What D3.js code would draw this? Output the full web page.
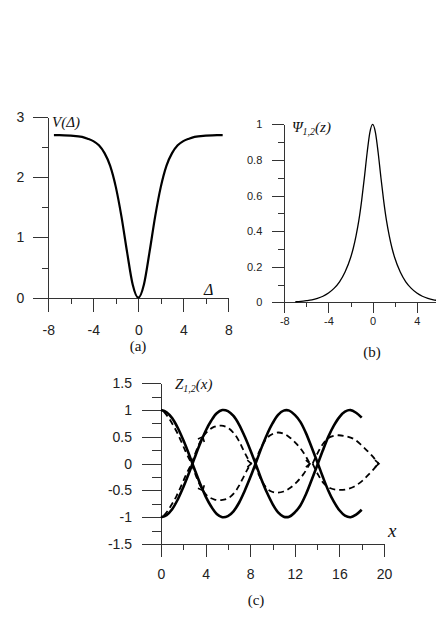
<!DOCTYPE html>
<meta charset="utf-8">
<style>
    body {
        margin: 0;
        background-color: #ffffff;
    }

    .axis path,
    .axis line {
        fill: none;
        stroke: #333333;
        stroke-width: 1px;
        shape-rendering: crispEdges;
    }

    .axis text {
        fill: #222222;
        font-family: "Liberation Sans", Arial, sans-serif;
    }

    .lbl {
        font-family: "Liberation Serif", "Times New Roman", serif;
        fill: #111111;
    }

    .curve {
        fill: none;
        stroke: #000000;
    }
</style>

<body>
    <script src="https://d3js.org/d3.v7.min.js"></script>
    <script>
        // (a) potential V(Δ)
        var deltaA = [-7.5, -7, -6, -5, -4.5, -4, -3.5, -3, -2.5, -2, -1.5, -1, -0.5, 0,
            0.5, 1, 1.5, 2, 2.5, 3, 3.5, 4, 4.5, 5, 6, 7, 7.5];
        var valueA = [2.70, 2.70, 2.69, 2.67, 2.64, 2.60, 2.53, 2.40, 2.19, 1.84, 1.35, 0.76, 0.22, 0,
            0.22, 0.76, 1.35, 1.84, 2.19, 2.40, 2.53, 2.60, 2.64, 2.67, 2.69, 2.70, 2.70];

        // (b) Ψ1,2(z)
        var zB = [-7, -6.5, -6, -5.5, -5, -4.5, -4, -3.5, -3, -2.5, -2, -1.75, -1.5, -1.25, -1, -0.75, -0.5, -0.25, 0,
            0.25, 0.5, 0.75, 1, 1.25, 1.5, 1.75, 2, 2.5, 3, 3.5, 4, 4.5, 5, 5.5, 6, 6.5, 7, 7.5, 8];
        var valueB = [0.003, 0.005, 0.009, 0.014, 0.022, 0.034, 0.052, 0.078, 0.115, 0.17, 0.25, 0.305, 0.375, 0.46, 0.57, 0.70, 0.84, 0.955, 1,
            0.955, 0.84, 0.70, 0.57, 0.46, 0.375, 0.305, 0.25, 0.17, 0.115, 0.078, 0.052, 0.034, 0.022, 0.014, 0.009, 0.005, 0.003, 0.002, 0.001];

        // (c) Z1,2(x): two solid curves, dashed lobes
        var xC = [0, 0.5, 1, 1.5, 2, 2.5, 3, 3.5, 4, 4.5, 5, 5.5, 6, 6.5, 7, 7.5, 8, 8.5, 9,
            9.5, 10, 10.5, 11, 11.5, 12, 12.5, 13, 13.5, 14, 14.5, 15, 15.5, 16, 16.5, 17, 17.5, 18];
        var solid1 = [1, 0.96, 0.85, 0.67, 0.44, 0.18, -0.10, -0.37, -0.61, -0.80, -0.94, -1.0, -0.98, -0.89, -0.73, -0.51, -0.26, 0.01, 0.29,
            0.54, 0.75, 0.91, 0.99, 0.99, 0.91, 0.78, 0.57, 0.31, 0.04, -0.24, -0.50, -0.71, -0.87, -0.97, -1.0, -0.95, -0.86];
        var solid2 = [-1, -0.96, -0.85, -0.67, -0.44, -0.18, 0.10, 0.37, 0.61, 0.80, 0.94, 1.0, 0.98, 0.89, 0.73, 0.51, 0.26, -0.01, -0.29,
            -0.54, -0.75, -0.91, -0.99, -0.99, -0.91, -0.78, -0.57, -0.31, -0.04, 0.24, 0.50, 0.71, 0.87, 0.97, 1.0, 0.95, 0.86];

        var dashUpper = [
            [[0.25, 0.97], [0.6, 0.88], [1.0, 0.75], [1.4, 0.6], [1.8, 0.42], [2.2, 0.23], [2.5, 0.1], [2.75, 0]],
            [[2.75, 0], [3.2, 0.26], [3.7, 0.48], [4.2, 0.61], [4.8, 0.69], [5.4, 0.71], [6.0, 0.67], [6.6, 0.55], [7.0, 0.42], [7.4, 0.25], [7.8, 0.09], [8.1, 0]],
            [[8.4, 0], [8.8, 0.22], [9.3, 0.42], [9.8, 0.53], [10.4, 0.58], [11.0, 0.56], [11.6, 0.48], [12.2, 0.36], [12.8, 0.2], [13.35, 0]],
            [[13.6, 0], [14.1, 0.22], [14.6, 0.39], [15.2, 0.5], [15.9, 0.53], [16.6, 0.51], [17.3, 0.46], [18.0, 0.34], [18.5, 0.24], [19.0, 0.13], [19.5, 0]]
        ];
        var dashLower = [
            [[0.25, -0.97], [0.6, -0.88], [1.0, -0.75], [1.4, -0.6], [1.8, -0.42], [2.2, -0.23], [2.5, -0.1], [2.75, 0]],
            [[2.75, 0], [3.2, -0.26], [3.7, -0.48], [4.2, -0.61], [4.8, -0.67], [5.4, -0.68], [6.0, -0.65], [6.6, -0.54], [7.0, -0.41], [7.4, -0.25], [7.8, -0.09], [8.1, 0]],
            [[8.4, 0], [8.8, -0.22], [9.3, -0.41], [9.8, -0.51], [10.4, -0.54], [11.0, -0.52], [11.6, -0.45], [12.2, -0.34], [12.8, -0.19], [13.35, 0]],
            [[13.6, 0], [14.1, -0.21], [14.6, -0.37], [15.2, -0.46], [15.9, -0.49], [16.6, -0.48], [17.3, -0.43], [18.0, -0.33], [18.5, -0.23], [19.0, -0.12], [19.5, 0]]
        ];
        // little arrow heads on the dashed lobes: [x, y, towards x, towards y]
        var arrowsC = [[3.75, 0.5, 3.2, 0.26], [3.75, -0.5, 3.2, -0.26], [8.1, 0, 7.6, 0], [13.35, 0, 12.8, 0], [19.55, 0, 19.0, 0]];

        var svg = d3.select("body").append("svg")
            .attr("width", 436)
            .attr("height", 617);

        function drawAxes(x, y, o) {
            var y0 = y.range()[0],
                x0 = x.range()[0];
            var fmt = function(d) {
                return String(d);
            };

            var gx = svg.append("g").attr("class", "axis")
                .attr("transform", "translate(0," + y0 + ")");
            gx.call(d3.axisBottom(x).tickValues(o.xMajor).tickSize(o.xTick).tickSizeOuter(0)
                .tickPadding(o.xPad).tickFormat(fmt));
            gx.selectAll("text").style("font-size", o.font + "px");
            var gxm = svg.append("g").attr("class", "axis")
                .attr("transform", "translate(0," + y0 + ")");
            gxm.call(d3.axisBottom(x).tickValues(o.xMinor).tickSize(o.xTickMinor).tickFormat(""));
            gxm.select(".domain").remove();

            var gy = svg.append("g").attr("class", "axis")
                .attr("transform", "translate(" + x0 + ",0)");
            gy.call(d3.axisLeft(y).tickValues(o.yMajor).tickSize(o.yTick).tickSizeOuter(0)
                .tickPadding(o.yPad).tickFormat(fmt));
            gy.selectAll("text").style("font-size", o.yFont + "px");
            var gym = svg.append("g").attr("class", "axis")
                .attr("transform", "translate(" + x0 + ",0)");
            gym.call(d3.axisLeft(y).tickValues(o.yMinor).tickSize(o.yTickMinor).tickFormat(""));
            gym.select(".domain").remove();
        }

        // ---------- panel (a)
        var xa = d3.scaleLinear().domain([-8, 8]).range([48.3, 228.3]);
        var ya = d3.scaleLinear().domain([0, 3]).range([297.7, 117]);
        drawAxes(xa, ya, {
            xMajor: [-8, -4, 0, 4, 8], xMinor: [-6, -2, 2, 6],
            yMajor: [0, 1, 2, 3], yMinor: [0.5, 1.5, 2.5],
            xTick: 14, xTickMinor: 6, yTick: 15, yTickMinor: 6,
            xPad: 13, yPad: 9, font: 14, yFont: 14
        });
        svg.append("path")
            .attr("class", "curve")
            .attr("stroke-width", 2.2)
            .attr("d", d3.line().curve(d3.curveMonotoneX)
                .x(function(d, i) { return xa(deltaA[i]); })
                .y(function(d) { return ya(d); })(valueA));

        svg.append("text").attr("class", "lbl").attr("x", 52).attr("y", 127)
            .style("font-style", "italic").style("font-size", "15px").text("V(Δ)");
        svg.append("text").attr("class", "lbl").attr("x", 204).attr("y", 295)
            .style("font-style", "italic").style("font-size", "16px").text("Δ");
        svg.append("text").attr("class", "lbl").attr("x", 138).attr("y", 351)
            .attr("text-anchor", "middle").style("font-size", "15px").text("(a)");

        // ---------- panel (b), its right end runs past the picture's edge
        var xb = d3.scaleLinear().domain([-8, 8]).range([284.3, 461]);
        var yb = d3.scaleLinear().domain([0, 1]).range([302.3, 124.3]);
        drawAxes(xb, yb, {
            xMajor: [-8, -4, 0, 4], xMinor: [-6, -2, 2, 6],
            yMajor: [0, 0.2, 0.4, 0.6, 0.8, 1], yMinor: [0.1, 0.3, 0.5, 0.7, 0.9],
            xTick: 11, xTickMinor: 5, yTick: 12, yTickMinor: 6,
            xPad: 4, yPad: 10, font: 11, yFont: 11
        });
        svg.append("path")
            .attr("class", "curve")
            .attr("stroke-width", 1.3)
            .attr("d", d3.line().curve(d3.curveMonotoneX)
                .x(function(d, i) { return xb(zB[i]); })
                .y(function(d) { return yb(d); })(valueB));

        var tb = svg.append("text").attr("class", "lbl").attr("x", 292).attr("y", 132)
            .style("font-style", "italic").style("font-size", "15px");
        tb.append("tspan").text("Ψ");
        tb.append("tspan").attr("dy", 3).style("font-size", "10px").text("1,2");
        tb.append("tspan").attr("dy", -3).text("(z)");
        svg.append("text").attr("class", "lbl").attr("x", 372).attr("y", 357)
            .attr("text-anchor", "middle").style("font-size", "15px").text("(b)");

        // ---------- panel (c)
        var xc = d3.scaleLinear().domain([0, 20]).range([161, 384]);
        var yc = d3.scaleLinear().domain([-1.5, 1.5]).range([544, 383.3]);
        drawAxes(xc, yc, {
            xMajor: [0, 4, 8, 12, 16, 20], xMinor: [2, 6, 10, 14, 18],
            yMajor: [-1.5, -1, -0.5, 0, 0.5, 1, 1.5],
            yMinor: [-1.25, -0.75, -0.25, 0.25, 0.75, 1.25],
            xTick: 13, xTickMinor: 6, yTick: 19, yTickMinor: 9,
            xPad: 12, yPad: 10, font: 14, yFont: 14
        });

        var lineC = d3.line().curve(d3.curveCatmullRom)
            .x(function(d, i) { return xc(xC[i]); })
            .y(function(d) { return yc(d); });
        [solid1, solid2].forEach(function(s) {
            svg.append("path")
                .attr("class", "curve")
                .attr("stroke-width", 2.6)
                .attr("d", lineC(s));
        });

        var lobe = d3.line().curve(d3.curveCatmullRom)
            .x(function(d) { return xc(d[0]); })
            .y(function(d) { return yc(d[1]); });
        dashUpper.concat(dashLower).forEach(function(l) {
            svg.append("path")
                .attr("class", "curve")
                .attr("stroke-width", 1.8)
                .attr("stroke-dasharray", "6,4")
                .attr("d", lobe(l));
        });

        arrowsC.forEach(function(a) {
            var px = xc(a[0]), py = yc(a[1]);
            var ang = Math.atan2(yc(a[3]) - py, xc(a[2]) - px) * 180 / Math.PI;
            svg.append("path")
                .attr("class", "curve")
                .attr("stroke-width", 1.6)
                .attr("transform", "translate(" + px + "," + py + ") rotate(" + ang + ")")
                .attr("d", "M4,-3.5L0,0L4,3.5");
        });

        var tc = svg.append("text").attr("class", "lbl").attr("x", 175).attr("y", 389)
            .style("font-style", "italic").style("font-size", "15px");
        tc.append("tspan").text("Z");
        tc.append("tspan").attr("dy", 3).style("font-size", "10px").text("1,2");
        tc.append("tspan").attr("dy", -3).text("(x)");
        svg.append("text").attr("class", "lbl").attr("x", 388).attr("y", 537)
            .style("font-style", "italic").style("font-size", "19px").text("x");
        svg.append("text").attr("class", "lbl").attr("x", 256).attr("y", 605)
            .attr("text-anchor", "middle").style("font-size", "15px").text("(c)");
    </script>
</body>
